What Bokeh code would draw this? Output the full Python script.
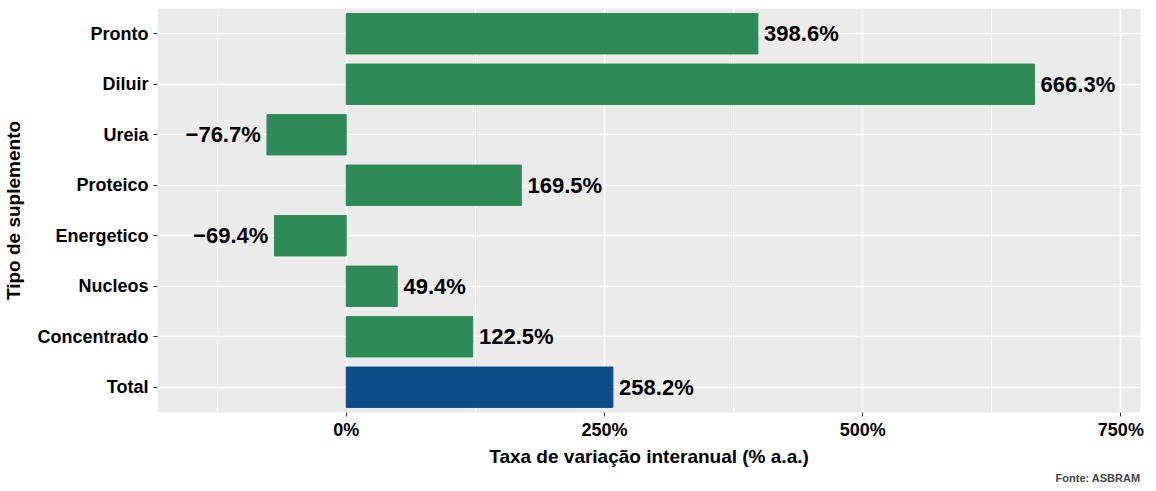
from bokeh.plotting import figure
from bokeh.models import ColumnDataSource, FixedTicker, Title, LabelSet
from bokeh.core.properties import value
from bokeh.embed import file_html
from bokeh.resources import INLINE

categories = ["Total", "Concentrado", "Nucleos", "Energetico", "Proteico", "Ureia", "Diluir", "Pronto"]
values = [258.2, 122.5, 49.4, -69.4, 169.5, -76.7, 666.3, 398.6]
colors = ["#0f4d8a"] + ["#2e8b57"] * 7
labels = [("\u2212" if v < 0 else "") + f"{abs(v):.1f}%" for v in values]

src = ColumnDataSource(data=dict(
    cat=categories, val=values, color=colors, label=labels,
    lx=[v + (6 if v >= 0 else -6) for v in values],
    align=["left" if v >= 0 else "right" for v in values],
))

p = figure(y_range=categories, x_range=(-182.7, 769), width=1146, height=483,
           output_backend="svg", toolbar_location=None,
           background_fill_color="#ebebeb", border_fill_color="white",
           min_border_left=10, min_border_right=6, min_border_top=8, min_border_bottom=0)
p.outline_line_color = None
p.hbar(y="cat", left=0, right="val", height=0.8, color="color", source=src)
p.add_layout(LabelSet(x="lx", y="cat", text="label", text_align="align", source=src,
                      text_baseline="middle", text_font_size="22px", text_font_style="bold",
                      text_color="black", text_font=value("Liberation Sans")))

p.xaxis.ticker = FixedTicker(ticks=[0, 250, 500, 750], minor_ticks=[-125, 125, 375, 625])
p.xaxis.major_label_overrides = {0: "0%", 250: "250%", 500: "500%", 750: "750%"}
p.xgrid.grid_line_color = "white"
p.xgrid.grid_line_width = 1.5
p.xgrid.minor_grid_line_color = "white"
p.xgrid.minor_grid_line_width = 0.8
p.ygrid.grid_line_color = "white"
p.ygrid.grid_line_width = 1.5
for ax in (p.xaxis, p.yaxis):
    ax.axis_line_color = None
    ax.major_tick_line_color = "#333333"
    ax.minor_tick_line_color = None
    ax.major_tick_out = 4
    ax.major_tick_in = 0
    ax.major_label_text_font = "Liberation Sans"
    ax.major_label_text_font_style = "bold"
    ax.major_label_text_font_size = "18px"
    ax.major_label_text_color = "black"
    ax.axis_label_text_font = "Liberation Sans"
    ax.axis_label_text_font_style = "bold"
    ax.axis_label_text_font_size = "19px"
    ax.axis_label_text_color = "black"
p.xaxis.major_label_standoff = 3
p.xaxis.axis_label_standoff = 3
p.yaxis.axis_label_standoff = 10
p.xaxis.axis_label = "Taxa de variação interanual (% a.a.)"
p.yaxis.axis_label = "Tipo de suplemento"
p.add_layout(Title(text="Fonte: ASBRAM", align="right", text_font_size="11px",
                   text_font="Liberation Sans", text_font_style="bold", standoff=0), "below")

open("out.html", "w").write(file_html(p, INLINE))
